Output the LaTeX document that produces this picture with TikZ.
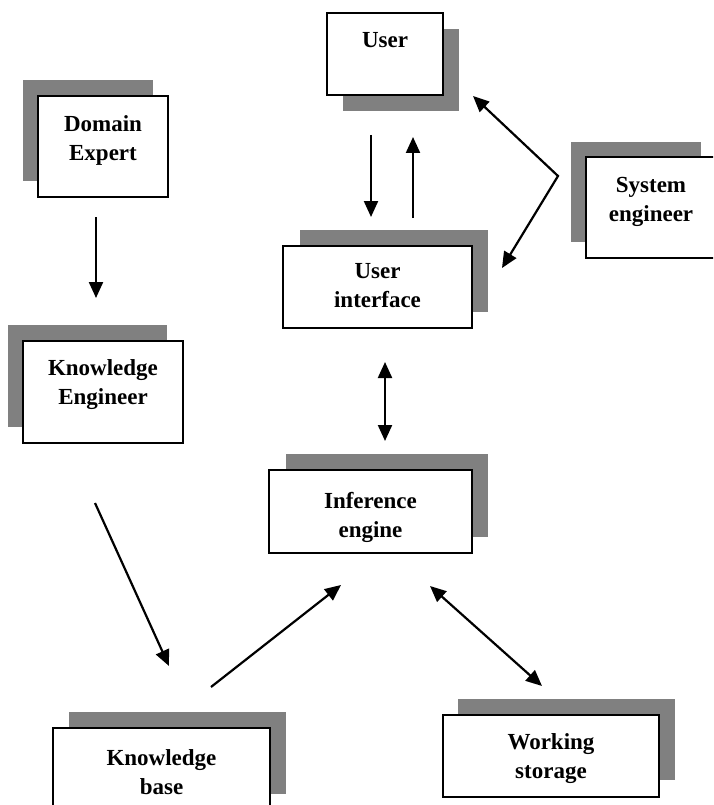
\documentclass[tikz,border=0pt]{standalone}
\usepackage{fontspec}
\setmainfont{Liberation Serif}
\usetikzlibrary{arrows.meta}
\definecolor{shadowgray}{RGB}{128,128,128}
\tikzset{
  shadowfill/.style={fill=shadowgray, draw=none},
  mainbox/.style={draw=black, line width=1.3pt, fill=white, inner sep=0pt, rectangle},
  lbl/.style={font=\bfseries\fontsize{23}{29.5}\selectfont, align=center, inner sep=0pt, anchor=north},
  tipA/.tip={Triangle[length=16pt,width=14pt]},
  arr/.style={line width=2.2pt, -tipA, miter limit=10},
  darr/.style={line width=2.2pt, tipA-tipA, miter limit=10},
}
\begin{document}
\begin{tikzpicture}[x=1pt, y=-1pt]
\useasboundingbox (0,0) rectangle (713,805);
\fill[white] (0,0) rectangle (713,805);
\clip (0,0) rectangle (713,805);

% User
\fill[shadowfill] (343,29) rectangle (459,111);
\node[mainbox, minimum width=116pt, minimum height=82pt] (user) at (385,54) {};
\node[lbl] (user-t) at (385,32) {User};

% Domain Expert
\fill[shadowfill] (23,80) rectangle (153,181);
\node[mainbox, minimum width=130pt, minimum height=101pt] (dom) at (103,146.5) {};
\node[lbl] (dom-t) at (103,115) {Domain\\Expert};

% System engineer
\fill[shadowfill] (571,142) rectangle (701,242);
\node[mainbox, minimum width=130pt, minimum height=101pt] (sys) at (651,207.5) {};
\node[lbl] (sys-t) at (651,177) {System\\engineer};

% User interface
\fill[shadowfill] (300,230) rectangle (488,312);
\node[mainbox, minimum width=189pt, minimum height=82pt] (ui) at (377.5,287) {};
\node[lbl] (ui-t) at (377.5,263) {User\\interface};

% Knowledge Engineer
\fill[shadowfill] (8,325) rectangle (167,427);
\node[mainbox, minimum width=160pt, minimum height=102pt] (ke) at (103,392) {};
\node[lbl] (ke-t) at (103,359) {Knowledge\\Engineer};

% Inference engine
\fill[shadowfill] (286,454) rectangle (488,537);
\node[mainbox, minimum width=203pt, minimum height=83pt] (ie) at (370.5,511.5) {};
\node[lbl] (ie-t) at (370.5,492) {Inference\\engine};

% Knowledge base
\fill[shadowfill] (69,712) rectangle (286,794);
\node[mainbox, minimum width=217pt, minimum height=84pt] (kb) at (161.5,770) {};
\node[lbl] (kb-t) at (161.5,749) {Knowledge\\base};

% Working storage
\fill[shadowfill] (458,699) rectangle (675,780);
\node[mainbox, minimum width=216pt, minimum height=82pt] (ws) at (551,756) {};
\node[lbl] (ws-t) at (551,733) {Working\\storage};

% connector end points
\coordinate (de-s) at (96,217);
\coordinate (de-e) at (96,298);
\coordinate (ke-s) at (95,503);
\coordinate (ke-e) at (169,666);
\coordinate (kb-s) at (211,687);
\coordinate (kb-e) at (341,585);
\coordinate (iw-a) at (430,586);
\coordinate (iw-b) at (542,686);
\coordinate (ui-a) at (385,362);
\coordinate (ui-b) at (385,441);
\coordinate (ud-s) at (371,135);
\coordinate (ud-e) at (371,217);
\coordinate (uu-s) at (413,218);
\coordinate (uu-e) at (413,137);
\coordinate (se-a) at (473,96);
\coordinate (se-j) at (558,176);
\coordinate (se-b) at (502,268);

\draw[arr] (de-s) -- (de-e);
\draw[arr] (ke-s) -- (ke-e);
\draw[arr] (kb-s) -- (kb-e);
\draw[darr] (iw-a) -- (iw-b);
\draw[darr] (ui-a) -- (ui-b);
\draw[arr] (ud-s) -- (ud-e);
\draw[arr] (uu-s) -- (uu-e);
\draw[darr] (se-a) -- (se-j) -- (se-b);
\end{tikzpicture}
\end{document}
